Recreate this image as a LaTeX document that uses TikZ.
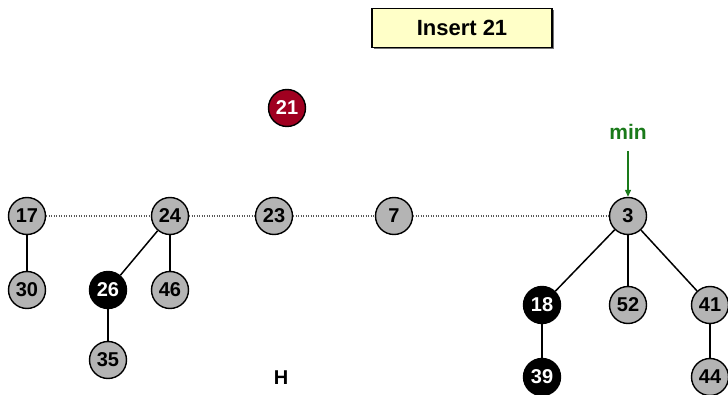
\documentclass[tikz,border=0pt]{standalone}
\usepackage{fontspec}
\setmainfont{Liberation Sans}
\usetikzlibrary{arrows.meta}
\definecolor{nodegray}{HTML}{B4B4B4}
\definecolor{insred}{HTML}{A00020}
\definecolor{mingreen}{HTML}{1A7A1A}
\definecolor{boxyellow}{HTML}{FFFFC8}
\begin{document}
\begin{tikzpicture}[x=1pt,y=-1pt,
  hn/.style={circle,draw=black,line width=1.4pt,fill=nodegray,minimum size=37pt,inner sep=0pt,
    font=\fontsize{20}{20}\selectfont\bfseries},
  bn/.style={hn,fill=black,text=white},
  rn/.style={hn,fill=insred,text=white},
  tree/.style={line width=1.5pt,black},
  rootlist/.style={line width=1.2pt,dash pattern=on 1.2pt off 1.3pt,black!65}]
\useasboundingbox (0,0) rectangle (728,395);
% insert box
\fill[black!55] (374,10) rectangle (554,49);
\node[draw=black,line width=1.4pt,fill=boxyellow,minimum width=180pt,minimum height=39pt,inner sep=0pt,
  font=\fontsize{22}{22}\selectfont\bfseries] (ins) at (462,28) {Insert 21};
% nodes
\node[rn] (n21) at (287,108) {21};
\node[hn] (n17) at (27,216) {17};
\node[hn] (n24) at (170,216) {24};
\node[hn] (n23) at (274,216) {23};
\node[hn] (n7) at (394,216) {7};
\node[hn] (n3) at (628,216) {3};
\node[hn] (n30) at (27,290) {30};
\node[bn] (n26) at (108,290) {26};
\node[hn] (n46) at (170,290) {46};
\node[hn] (n35) at (108,360) {35};
\node[bn] (n18) at (542,305) {18};
\node[hn] (n52) at (628,305) {52};
\node[hn] (n41) at (710,305) {41};
\node[bn] (n39) at (542,377) {39};
\node[hn] (n44) at (710,377) {44};
% labels
\node[text=mingreen,font=\fontsize{21}{21}\selectfont\bfseries] (minlab) at (628,132) {min};
\node[font=\fontsize{20}{20}\selectfont\bfseries] (hlab) at (281,378) {H};
\coordinate (arrtop) at (628,151);
\draw[mingreen,line width=1.3pt,-{Triangle[length=7pt,width=6pt]}] (arrtop) -- (n3.north);
% root list
\draw[rootlist] (n17) -- (n24);
\draw[rootlist] (n24) -- (n23);
\draw[rootlist] (n23) -- (n7);
\draw[rootlist] (n7) -- (n3);
% trees
\draw[tree] (n17) -- (n30);
\draw[tree] (n24) -- (n26);
\draw[tree] (n24) -- (n46);
\draw[tree] (n26) -- (n35);
\draw[tree] (n3) -- (n18);
\draw[tree] (n3) -- (n52);
\draw[tree] (n3) -- (n41);
\draw[tree] (n18) -- (n39);
\draw[tree] (n41) -- (n44);
\end{tikzpicture}
\end{document}
